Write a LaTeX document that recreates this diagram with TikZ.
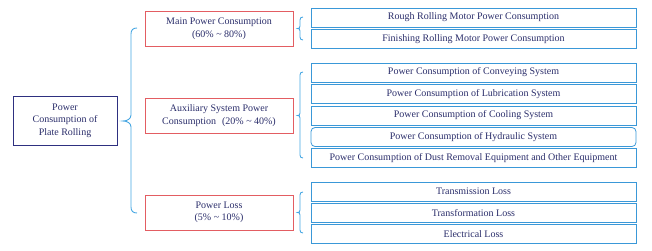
\documentclass[tikz,border=0pt]{standalone}
\usepackage{fontspec}
\setmainfont{Liberation Serif}
\definecolor{navy}{HTML}{2E3080}
\definecolor{txt}{HTML}{2A2D6A}
\definecolor{redb}{HTML}{E35D62}
\definecolor{blueb}{HTML}{3A98D8}
\definecolor{brc}{HTML}{45A6E2}
\tikzset{
  every node/.style={font=\fontsize{10}{12.5}\selectfont, text=txt, align=center, inner sep=0pt},
  rootbox/.style={draw=navy, line width=0.8pt, minimum width=104pt, minimum height=49pt},
  midbox/.style={draw=redb, line width=0.8pt, minimum width=148pt, minimum height=35pt},
  leafbox/.style={draw=blueb, line width=0.8pt, minimum width=325pt, minimum height=19pt},
  bracestyle/.style={draw=brc, line width=0.9pt}
}
\begin{document}
\begin{tikzpicture}[x=1pt,y=-1pt]
\useasboundingbox (0,0) rectangle (652,250);
% root
\node[rootbox] (root) at (65,120.5) {Power\\Consumption of\\Plate Rolling};
% middle
\node[midbox] (main) at (219,28.5) {Main Power Consumption\\(60\% \textasciitilde\ 80\%)};
\node[midbox] (aux) at (219,115.5) {Auxiliary System Power\\Consumption\hspace{0.6em}(20\% \textasciitilde\ 40\%)};
\node[midbox] (loss) at (219,212.5) {Power Loss\\(5\% \textasciitilde\ 10\%)};
% leaves
\node[leafbox] (l1) at (473.5,17.5) {Rough Rolling Motor Power Consumption};
\node[leafbox] (l2) at (473.5,39) {Finishing Rolling Motor Power Consumption};
\node[leafbox] (l3) at (473.5,72.5) {Power Consumption of Conveying System};
\node[leafbox] (l4) at (473.5,94) {Power Consumption of Lubrication System};
\node[leafbox] (l5) at (473.5,115.5) {Power Consumption of Cooling System};
\node[leafbox, rounded corners=4pt] (l6) at (473.5,137) {Power Consumption of Hydraulic System};
\node[leafbox] (l7) at (473.5,158) {Power Consumption of Dust Removal Equipment and Other Equipment};
\node[leafbox] (l8) at (473.5,191.5) {Transmission Loss};
\node[leafbox] (l9) at (473.5,213) {Transformation Loss};
\node[leafbox] (l10) at (473.5,234) {Electrical Loss};
% big brace
\draw[bracestyle] (137,28) .. controls (133,28) and (131,30) .. (131,34) -- (131,115)
  .. controls (131,119) and (127,121) .. (123,121)
  .. controls (127,121) and (131,123) .. (131,127) -- (131,207)
  .. controls (131,211) and (133,213) .. (137,213);
% small braces
\draw[bracestyle] (303,17) .. controls (301,17) and (300,18) .. (300,20) -- (300,26)
  .. controls (300,28) and (299,28.5) .. (297.5,28.5)
  .. controls (299,28.5) and (300,29) .. (300,31) -- (300,37)
  .. controls (300,39) and (301,40) .. (303,40);
\draw[bracestyle] (303,72) .. controls (301,72) and (300,73) .. (300,75) -- (300,113)
  .. controls (300,115) and (299,115.5) .. (297.5,115.5)
  .. controls (299,115.5) and (300,116) .. (300,118) -- (300,155)
  .. controls (300,157) and (301,158) .. (303,158);
\draw[bracestyle] (303,192) .. controls (301,192) and (300,193) .. (300,195) -- (300,210)
  .. controls (300,212) and (299,212.5) .. (297.5,212.5)
  .. controls (299,212.5) and (300,213) .. (300,215) -- (300,230)
  .. controls (300,232) and (301,233) .. (303,233);
\end{tikzpicture}
\end{document}
